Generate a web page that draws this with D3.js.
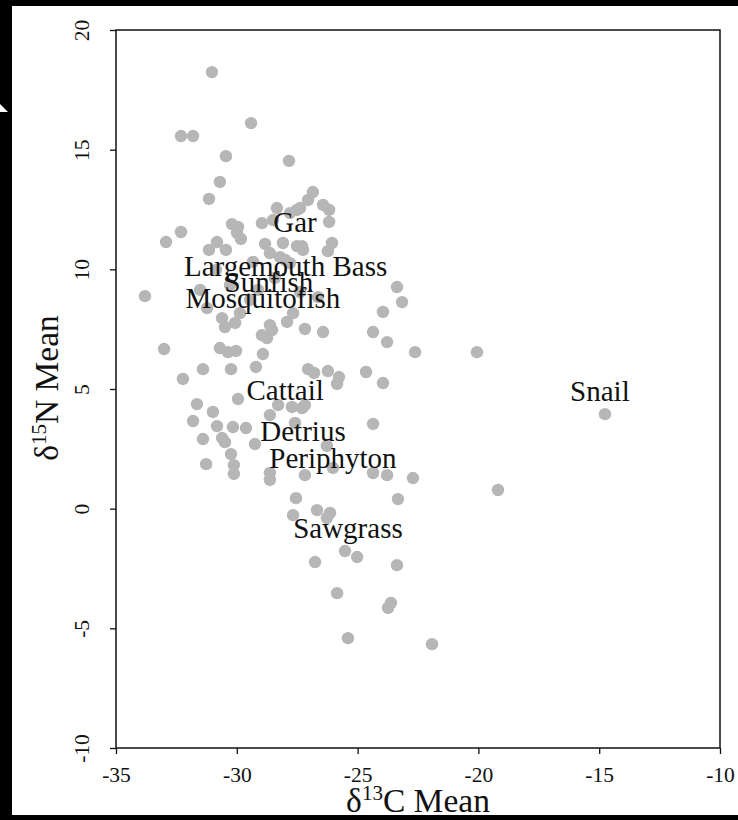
<!DOCTYPE html>
<html>
<head>
<meta charset="utf-8">
<script src="https://cdn.jsdelivr.net/npm/d3@7"></script>
<style>
  html, body { margin: 0; padding: 0; background: #000; }
  svg { display: block; }
  text { font-family: "Liberation Serif", "Times New Roman", serif; fill: #111; }
</style>
</head>
<body>
<div class="scatter"></div>
<script>
// d13C mean (x) and d15N mean (y) for every sample
const carbonMean = [-31.03,-29.41,-32.31,-31.81,-30.45,-27.84,-30.70,-31.15,-26.85,-27.05,-26.43,-26.18,-27.38,-28.34,-27.80,-27.51,-28.50,-26.18,-28.96,-30.20,-29.95,-29.99,-29.83,-32.31,-32.93,-30.82,-31.15,-30.45,-28.83,-28.09,-27.51,-27.30,-26.06,-26.23,-28.63,-28.21,-29.33,-27.80,-30.86,-28.00,-27.26,
  -30.28,-29.12,-27.38,-26.64,-29.45,-28.42,-31.52,
  -33.80,-31.23,-29.87,-27.67,-27.92,-30.61,-30.49,-30.07,-28.63,-28.96,-28.75,-28.54,-27.18,-26.43,-23.37,-23.16,-23.95,-24.36,-23.78,-22.62,-33.01,-30.70,-30.36,-30.03,-28.92,-31.40,-30.24,-29.21,-27.05,-26.80,-26.23,-25.77,-25.85,-24.65,-23.95,-20.06,-32.23,-29.95,-31.65,-30.99,-31.81,-30.82,-30.16,-29.62,-31.40,-30.61,-30.49,-29.25,-28.29,-27.72,-27.30,-27.18,-28.63,-27.59,-26.27,-24.36,-30.24,-31.27,-30.12,-30.12,-28.63,-28.63,-27.18,-26.02,-24.36,-23.78,-22.71,-14.76,-19.19,-27.55,-23.33,-27.67,-26.68,-26.14,-26.27,-26.76,-25.52,-25.02,-23.37,-25.85,-23.62,-23.74,-25.40,-21.92];
const nitrogenMean = [18.24,16.11,15.57,15.57,14.73,14.53,13.65,12.94,13.23,12.90,12.69,12.48,12.56,12.56,12.35,12.48,12.06,11.98,11.93,11.89,11.77,11.52,11.27,11.56,11.14,11.14,10.81,10.81,11.06,11.10,10.97,10.97,11.10,10.76,10.68,10.51,10.31,10.26,9.97,10.39,10.81,
  9.34,9.14,9.05,8.84,8.72,9.64,9.14,
  8.88,8.38,8.17,8.17,7.80,7.96,7.59,7.76,7.67,7.25,7.13,7.46,7.51,7.38,9.26,8.63,8.22,7.38,6.96,6.54,6.67,6.71,6.54,6.59,6.46,5.83,5.83,5.92,5.83,5.67,5.75,5.50,5.21,5.71,5.25,6.54,5.42,4.58,4.37,4.04,3.66,3.45,3.41,3.37,2.91,2.95,2.78,2.70,4.33,4.25,4.20,4.33,3.91,3.58,2.62,3.54,2.28,1.86,1.82,1.45,1.49,1.20,1.40,1.70,1.49,1.40,1.28,3.95,0.78,0.44,0.40,-0.27,-0.06,-0.18,-0.39,-2.23,-1.77,-2.02,-2.36,-3.53,-3.94,-4.15,-5.41,-5.66];

// group labels (text centre x, baseline y in data units)
const groupNames = ["Gar", "Largemouth Bass", "Sunfish", "Mosquitofish", "Cattail", "Detrius", "Periphyton", "Sawgrass", "Snail"];
const groupX = [-27.59, -27.98, -28.67, -28.92, -28.00, -27.26, -26.02, -25.40, -14.97];
const groupY = [11.56, 9.72, 9.05, 8.38, 4.54, 2.82, 1.70, -1.23, 4.50];

const xTicks = [-35, -30, -25, -20, -15, -10];
const yTicks = [-10, -5, 0, 5, 10, 15, 20];

const W = 738, H = 820;
const plot = { left: 116, right: 720, top: 30, bottom: 748 };

const x = d3.scaleLinear().domain([-35, -10]).range([plot.left, plot.right]);
const y = d3.scaleLinear().domain([-10, 20]).range([plot.bottom, plot.top]);

const svg = d3.select(".scatter").append("svg")
    .attr("width", W)
    .attr("height", H);

// black scan border around the white page
svg.append("rect").attr("width", W).attr("height", H).attr("fill", "#000");
svg.append("rect").attr("x", 12).attr("y", 6).attr("width", W - 12).attr("height", 809).attr("fill", "#fff");
svg.append("polygon").attr("points", "0,104 8,112 0,112").attr("fill", "#fff");

// points
const pts = carbonMean.map((c, i) => ({ c: c, n: nitrogenMean[i] }));
svg.append("g").selectAll("circle")
    .data(pts)
    .join("circle")
    .attr("cx", d => x(d.c))
    .attr("cy", d => y(d.n))
    .attr("r", 6.2)
    .attr("fill", "#b6b6b6");

// x axis
const xAxis = svg.append("g")
    .attr("transform", `translate(0,${plot.bottom})`)
    .call(d3.axisBottom(x).tickValues(xTicks).tickSize(6).tickPadding(13).tickFormat(d => String(d)));
xAxis.select(".domain").remove();
xAxis.selectAll("line").attr("stroke", "#111").attr("stroke-width", 1.3);
xAxis.selectAll("text").attr("font-size", 21.5).attr("font-family", null).attr("fill", "#111");

// y axis with rotated labels
const yAxis = svg.append("g")
    .attr("transform", `translate(${plot.left},0)`)
    .call(d3.axisLeft(y).tickValues(yTicks).tickSize(6).tickFormat(d => String(d)));
yAxis.select(".domain").remove();
yAxis.selectAll("line").attr("stroke", "#111").attr("stroke-width", 1.3);
yAxis.selectAll("text")
    .attr("x", 0)
    .attr("y", -27)
    .attr("dy", 0)
    .attr("text-anchor", "middle")
    .attr("transform", "rotate(-90)")
    .attr("font-size", 21.5)
    .attr("font-family", null)
    .attr("fill", "#111");

// plot frame
svg.append("rect")
    .attr("x", plot.left)
    .attr("y", plot.top)
    .attr("width", plot.right - plot.left)
    .attr("height", plot.bottom - plot.top)
    .attr("fill", "none")
    .attr("stroke", "#111")
    .attr("stroke-width", 1.5);

// group labels
svg.append("g").selectAll("text")
    .data(groupNames)
    .join("text")
    .attr("x", (d, i) => x(groupX[i]))
    .attr("y", (d, i) => y(groupY[i]))
    .attr("text-anchor", "middle")
    .attr("font-size", 29)
    .text(d => d);

// axis titles
const xt = svg.append("text")
    .attr("x", 418)
    .attr("y", 812)
    .attr("text-anchor", "middle")
    .attr("font-size", 33.5);
xt.append("tspan").text("δ");
xt.append("tspan").attr("dy", -12).attr("font-size", 21).text("13");
xt.append("tspan").attr("dy", 12).text("C Mean");

const yt = svg.append("text")
    .attr("transform", "translate(58,388) rotate(-90)")
    .attr("text-anchor", "middle")
    .attr("font-size", 33.5);
yt.append("tspan").text("δ");
yt.append("tspan").attr("dy", -12).attr("font-size", 21).text("15");
yt.append("tspan").attr("dy", 12).text("N Mean");
</script>
</body>
</html>
